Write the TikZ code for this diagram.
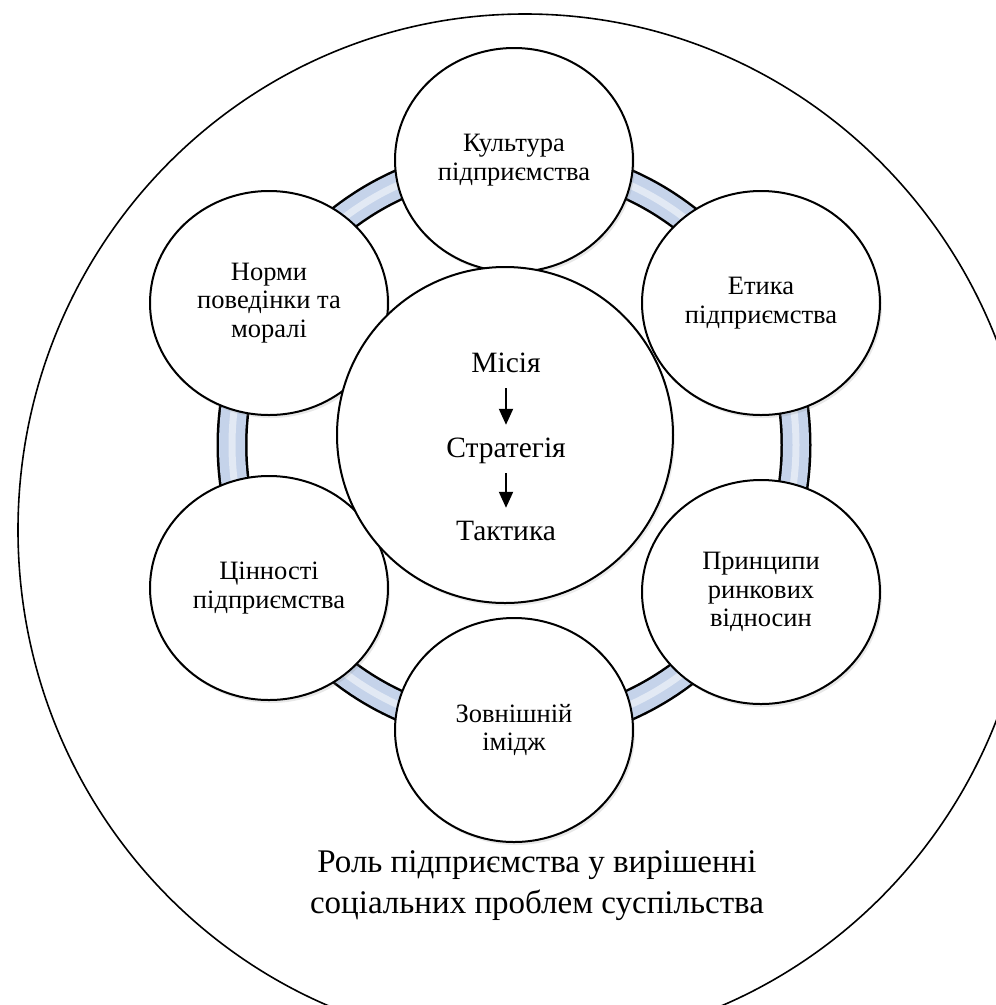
\documentclass[tikz,border=0pt]{standalone}
\usepackage{fontspec}
\setmainfont{Liberation Serif}
\usetikzlibrary{
    shapes.geometric,
    arrows.meta,
    shadows
}
\definecolor{ringblue}{HTML}{C5D3EA}

\begin{document}
\begin{tikzpicture}[
      x=1pt, y=-1pt,
      sat/.style={draw, ellipse, line width=2pt, fill=white, minimum width=238pt, minimum height=224pt, inner sep=0pt, align=center, font=\fontsize{26.5}{28.5}\selectfont, drop shadow={opacity=0.18, shadow xshift=2pt, shadow yshift=-3pt}},
      core/.style={draw, circle, line width=2pt, fill=white, minimum size=336pt, inner sep=0pt, drop shadow={opacity=0.15, shadow xshift=2pt, shadow yshift=-3pt}},
      word/.style={inner sep=0pt, anchor=base, text height=19pt, text depth=6pt, font=\fontsize{29.5}{31}\selectfont},
      flow/.style={-{Triangle[width=14pt,length=16pt]}, line width=2pt, shorten <=10pt, shorten >=13pt}
    ]
    \useasboundingbox (0,0) rectangle (996,1005);
    \coordinate (rim) at (525,530);
    \coordinate (hub) at (514,445);

    % outer field and ring
    \draw[line width=1.6pt] (rim) ellipse [x radius=507pt, y radius=516pt];
    \draw[line width=31pt] (hub) ellipse [x radius=282pt, y radius=285pt];
    \draw[line width=26pt, ringblue] (hub) ellipse [x radius=282pt, y radius=285pt];
    \draw[line width=7pt, white, opacity=0.5] (hub) ellipse [x radius=282pt, y radius=285pt];

    \node[sat] (kult) at (514,160) {Культура\\підприємства};
    \node[sat] (etyka) at (761,303) {Етика\\підприємства};
    \node[sat] (pryn) at (761,592) {Принципи\\ринкових\\відносин};
    \node[sat] (zovn) at (514,730) {Зовнішній\\імідж};
    \node[sat] (tsin) at (269,588) {Цінності\\підприємства};
    \node[sat] (norm) at (269,303) {Норми\\поведінки та\\моралі};

    \node[core] (core) at (505,435) {};
    \node[word] (misiia) at (506,372) {Місія};
    \node[word] (strat) at (506,457) {Стратегія};
    \node[word] (takt) at (506,540) {Тактика};
    \draw[flow] (misiia) -- (strat);
    \draw[flow] (strat) -- (takt);

    \node[font=\fontsize{33}{41}\selectfont, align=center] (role) at (537,886) {Роль підприємства у вирішенні\\соціальних проблем суспільства};
  \end{tikzpicture}
\end{document}
